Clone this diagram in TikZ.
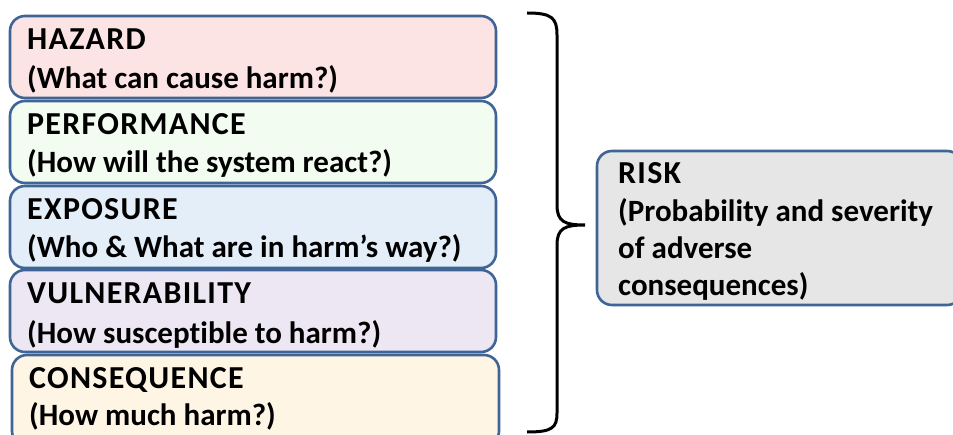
\documentclass[tikz,border=0pt]{standalone}
\usepackage{fontspec}
\setmainfont{Carlito}[Ligatures=NoCommon]
\newfontfamily\headfont[LetterSpace=4]{Carlito}
\definecolor{bordc}{HTML}{3F6496}
\definecolor{fhaz}{HTML}{FDE4E4}
\definecolor{fperf}{HTML}{F3FCF1}
\definecolor{fexp}{HTML}{E4EEF8}
\definecolor{fvul}{HTML}{EDE7F4}
\definecolor{fcon}{HTML}{FEF5E5}
\definecolor{frisk}{HTML}{E6E6E6}
\begin{document}
\begin{tikzpicture}[x=1pt,y=1pt,
  box/.style={draw=bordc, line width=2.6pt, rounded corners=15pt, inner sep=0pt},
  txt/.style={anchor=base west, inner sep=0pt, font=\fontsize{31}{37}\selectfont\bfseries},
  head/.style={anchor=base west, inner sep=0pt, font=\headfont\fontsize{32}{37}\selectfont\bfseries},
  brace/.style={draw=black, line width=3pt}]
\useasboundingbox (0,0) rectangle (953,434);
% left boxes (y measured from top: y = 434 - ypx)
\draw[box, fill=fhaz]  (10,{434-16})  rectangle (496,{434-98})  coordinate (hazbox);
\draw[box, fill=fperf] (10,{434-101}) rectangle (496,{434-183}) coordinate (perfbox);
\draw[box, fill=fexp]  (10,{434-186}) rectangle (496,{434-268}) coordinate (expbox);
\draw[box, fill=fvul]  (10,{434-270}) rectangle (496,{434-352}) coordinate (vulbox);
\draw[box, fill=fcon]  (12,{434-355}) rectangle (499,{434-446}) coordinate (conbox);
% texts
\node[head] (haz1)  at (27,{434-50})  {HAZARD};
\node[txt]  (haz2)  at (27,{434-89})  {(What can cause harm?)};
\node[head] (perf1) at (27,{434-135}) {PERFORMANCE};
\node[txt]  (perf2) at (27,{434-173}) {(How will the system react?)};
\node[head] (exp1)  at (27,{434-220}) {EXPOSURE};
\node[txt]  (exp2)  at (27,{434-258}) {(Who \& What are in harm’s way?)};
\node[head] (vul1)  at (27,{434-304}) {VULNERABILITY};
\node[txt]  (vul2)  at (27,{434-343}) {(How susceptible to harm?)};
\node[head] (con1)  at (29,{434-388}) {CONSEQUENCE};
\node[txt]  (con2)  at (29,{434-425}) {(How much harm?)};
% brace
\draw[brace] (527,{434-13}) .. controls (552,{434-13}) and (557,{434-18}) .. (557,{434-35})
  -- (557,{434-205}) .. controls (557,{434-222}) and (565,{434-225}) .. (585,{434-225})
  .. controls (565,{434-225}) and (557,{434-228}) .. (557,{434-245})
  -- (557,{434-413}) .. controls (557,{434-428}) and (552,{434-432}) .. (527,{434-432});
% risk box
\draw[box, fill=frisk] (597,{434-151}) rectangle (962,{434-305}) coordinate (riskbox);
\node[head] (risk1) at (618,{434-184}) {RISK};
\node[txt]  (risk2) at (618,{434-222}) {(Probability and severity};
\node[txt]  (risk3) at (618,{434-259}) {of adverse};
\node[txt]  (risk4) at (618,{434-296}) {consequences)};
\end{tikzpicture}
\end{document}
